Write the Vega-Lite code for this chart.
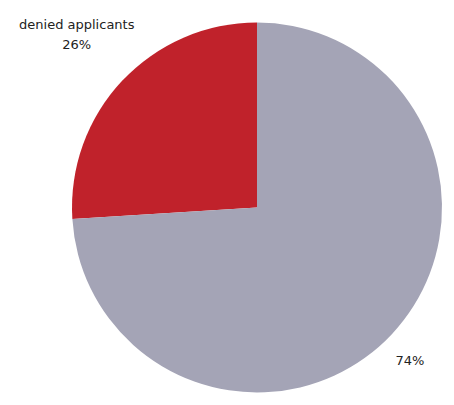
{
  "$schema": "https://vega.github.io/schema/vega-lite/v6.json",
  "width": 394,
  "height": 395,
  "autosize": "none",
  "padding": {"left": 60, "top": 10, "right": 0, "bottom": 0},
  "background": "white",
  "view": {"stroke": null},
  "data": {
    "values": [
      {"category": "denied applicants", "percent": 26},
      {"category": "other applicants", "percent": 74}
    ]
  },
  "transform": [
    {"calculate": "datum.category == 'denied applicants' ? ['denied applicants', datum.percent + '%'] : ''", "as": "labelDenied"},
    {"calculate": "datum.category == 'other applicants' ? datum.percent + '%' : ''", "as": "labelOther"}
  ],
  "encoding": {
    "theta": {"field": "percent", "type": "quantitative", "stack": true},
    "order": {"field": "category", "sort": "descending"}
  },
  "layer": [
    {
      "mark": {"type": "arc", "outerRadius": 185, "stroke": null},
      "encoding": {
        "color": {
          "field": "category",
          "type": "nominal",
          "scale": {"domain": ["denied applicants", "other applicants"], "range": ["#c0222b", "#a4a4b6"]},
          "legend": null
        }
      }
    },
    {
      "mark": {"type": "text", "radius": 250, "dx": 2, "dy": -11, "font": "DejaVu Sans", "fontSize": 13, "color": "#222222", "lineHeight": 20, "align": "center", "baseline": "middle"},
      "encoding": {"text": {"field": "labelDenied"}}
    },
    {
      "mark": {"type": "text", "radius": 214, "dx": -3, "dy": 7, "font": "DejaVu Sans", "fontSize": 13, "color": "#222222", "align": "center", "baseline": "middle"},
      "encoding": {"text": {"field": "labelOther"}}
    }
  ]
}
